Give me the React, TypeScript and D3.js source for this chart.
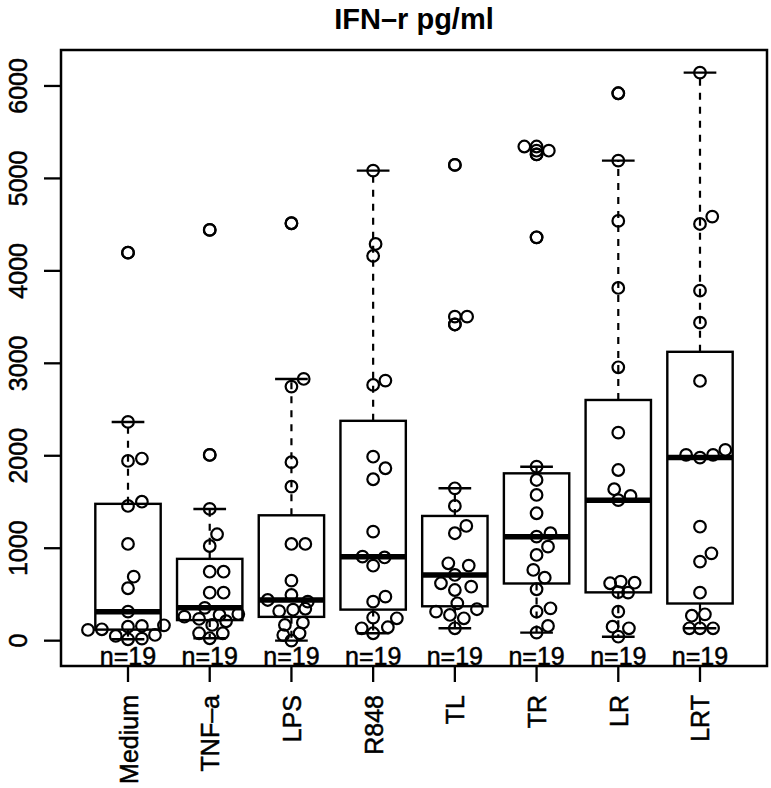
import { useEffect, useRef } from "react";
import * as d3 from "d3";

// group names as printed under the axis
const groups = ["Medium", "TNF–a", "LPS", "R848", "TL", "TR", "LR", "LRT"];

// IFN-r values (pg/ml) per group, n = 19 each
const medium = [15, 22, 51, 62, 116, 123, 151, 159, 166, 314, 567, 692, 1046, 1457, 1503, 1944, 1970, 2366, 4197];
const tnfa = [26, 80, 80, 170, 210, 235, 260, 278, 288, 355, 519, 519, 746, 746, 1024, 1151, 1425, 2009, 4443];
const lps = [0, 60, 80, 170, 195, 320, 335, 345, 422, 440, 494, 649, 1046, 1046, 1666, 1930, 2748, 2831, 4515];
const r848 = [80, 134, 145, 242, 250, 422, 476, 811, 900, 909, 1179, 1746, 1865, 1990, 2766, 2813, 4161, 4291, 5084];
const tl = [134, 242, 278, 314, 340, 404, 548, 584, 621, 711, 812, 837, 1162, 1241, 1457, 1648, 3420, 3505, 5146];
const tr = [87, 159, 314, 350, 556, 681, 765, 927, 1017, 1125, 1162, 1378, 1576, 1738, 1882, 4363, 5260, 5300, 5345];
const lr = [43, 134, 151, 314, 520, 525, 621, 627, 638, 1520, 1565, 1638, 1846, 2250, 2957, 3815, 4540, 5192, 5921];
const lrt = [134, 134, 134, 270, 285, 519, 855, 945, 1233, 1980, 2009, 2009, 2063, 2809, 3440, 3786, 4507, 4587, 6144];

// swarm offsets of the points (in group units)
const mediumDx = [0, 0.17, -0.15, 0.33, -0.49, -0.32, 0, 0.17, 0.44, 0, 0, 0.07, 0, 0, 0.17, 0, 0.17, 0, 0];
const tnfaDx = [0, -0.13, 0.16, 0.03, 0.2, -0.13, -0.31, 0.12, 0.35, -0.06, 0, 0.17, 0, 0.17, 0, 0.09, 0, 0, 0];
const lpsDx = [0, -0.1, 0.1, -0.08, 0.14, -0.15, 0.02, 0.17, 0.2, -0.29, 0, 0, 0, 0.17, 0, 0, 0, 0.15, 0];
const r848Dx = [0, -0.14, 0.18, 0.29, 0, 0, 0.15, 0, 0.14, -0.13, 0, 0, 0.15, 0, 0, 0.15, 0, 0.03, 0];
const tlDx = [0, 0.11, -0.06, -0.23, 0.27, 0.03, 0, 0.2, -0.17, 0, 0.17, -0.08, 0, 0.14, 0, 0, 0, 0.15, 0];
const trDx = [0, 0.14, 0, 0.17, 0, 0.1, -0.04, 0, 0.14, 0, 0.17, 0, 0, 0, 0, 0, 0, 0.15, -0.15];
const lrDx = [0, 0.13, -0.07, 0, 0.12, 0, -0.1, 0.2, 0.03, 0, 0.15, -0.05, 0, 0, 0, 0, 0, 0, 0];
const lrtDx = [-0.13, 0, 0.16, -0.1, 0.06, 0, 0, 0.14, 0, 0, -0.17, 0.16, 0.31, 0, 0, 0, 0, 0.15, 0];

const series = [medium, tnfa, lps, r848, tl, tr, lr, lrt];
const offsets = [mediumDx, tnfaDx, lpsDx, r848Dx, tlDx, trDx, lrDx, lrtDx];

const yTicks = [0, 1000, 2000, 3000, 4000, 5000, 6000];
const title = "IFN–r pg/ml";

const FONT = "'Liberation Sans', Arial, Helvetica, sans-serif";

// Tukey five-number summary, like R's fivenum
function fivenum(v: number[]) {
  const s = [...v].sort((a, b) => a - b);
  const n = s.length;
  const n4 = Math.floor((n + 3) / 2) / 2;
  const d = [1, n4, (n + 1) / 2, n + 1 - n4, n];
  return d.map(i => 0.5 * (s[Math.floor(i) - 1] + s[Math.ceil(i) - 1]));
}

function boxStats(v: number[]) {
  const [, q1, med, q3] = fivenum(v);
  const iqr = q3 - q1;
  const inside = v.filter(d => d >= q1 - 1.5 * iqr && d <= q3 + 1.5 * iqr);
  const out = v.filter(d => d < q1 - 1.5 * iqr || d > q3 + 1.5 * iqr);
  return { q1, med, q3, lo: d3.min(inside)!, hi: d3.max(inside)!, out };
}

export default function App() {
  const ref = useRef<SVGSVGElement>(null);

  useEffect(() => {
    const svg = d3.select(ref.current);
    svg.selectAll("*").remove();

    const left = 61, right = 767, top = 50, bottom = 666;

    const x = d3.scaleLinear().domain([0.18, 8.82]).range([left, right]);
    const y = d3.scaleLinear().domain([-274, 6389]).range([bottom, top]);

    const g = svg.append("g");

    // title
    g.append("text")
      .attr("x", (left + right) / 2)
      .attr("y", 29)
      .attr("text-anchor", "middle")
      .attr("font-family", FONT)
      .attr("font-weight", "bold")
      .attr("font-size", 29)
      .text(title);

    // boxes
    series.forEach((vals, i) => {
      const cx = x(i + 1);
      const st = boxStats(vals);
      const half = x(1.4) - x(1);
      const cap = x(1.2) - x(1);

      const bg = g.append("g");
      // whiskers
      [[st.q3, st.hi], [st.q1, st.lo]].forEach(([a, b]) => {
        bg.append("line")
          .attr("x1", cx).attr("x2", cx)
          .attr("y1", y(a)).attr("y2", y(b))
          .attr("stroke", "#000")
          .attr("stroke-width", 2.2)
          .attr("stroke-dasharray", "7,7");
        bg.append("line")
          .attr("x1", cx - cap).attr("x2", cx + cap)
          .attr("y1", y(b)).attr("y2", y(b))
          .attr("stroke", "#000")
          .attr("stroke-width", 2.4);
      });
      bg.append("rect")
        .attr("x", cx - half)
        .attr("y", y(st.q3))
        .attr("width", half * 2)
        .attr("height", y(st.q1) - y(st.q3))
        .attr("fill", "none")
        .attr("stroke", "#000")
        .attr("stroke-width", 2.4);
      bg.append("line")
        .attr("x1", cx - half).attr("x2", cx + half)
        .attr("y1", y(st.med)).attr("y2", y(st.med))
        .attr("stroke", "#000")
        .attr("stroke-width", 5.5);
      // outliers drawn by the boxplot itself, at the centre
      bg.selectAll(".out")
        .data(st.out)
        .enter()
        .append("circle")
        .attr("cx", cx)
        .attr("cy", d => y(d))
        .attr("r", 5.8)
        .attr("fill", "none")
        .attr("stroke", "#000")
        .attr("stroke-width", 2.2);

      // swarm points
      bg.selectAll(".pt")
        .data(vals.map((v, k) => ({ v, dx: offsets[i][k] })))
        .enter()
        .append("circle")
        .attr("cx", d => x(i + 1 + d.dx))
        .attr("cy", d => y(d.v))
        .attr("r", 5.8)
        .attr("fill", "none")
        .attr("stroke", "#000")
        .attr("stroke-width", 2.2);

      // n label
      bg.append("text")
        .attr("x", cx)
        .attr("y", bottom - 1)
        .attr("text-anchor", "middle")
        .attr("font-family", FONT)
        .attr("font-size", 25)
        .attr("stroke", "#000")
        .attr("stroke-width", 0.5)
        .text(`n=${vals.length}`);
    });

    // frame
    g.append("rect")
      .attr("x", left)
      .attr("y", top)
      .attr("width", right - left)
      .attr("height", bottom - top)
      .attr("fill", "none")
      .attr("stroke", "#000")
      .attr("stroke-width", 2.5);

    // y axis
    yTicks.forEach(t => {
      g.append("line")
        .attr("x1", left - 17).attr("x2", left)
        .attr("y1", y(t)).attr("y2", y(t))
        .attr("stroke", "#000")
        .attr("stroke-width", 2.3);
      g.append("text")
        .attr("transform", `translate(27, ${y(t)}) rotate(-90)`)
        .attr("text-anchor", "middle")
        .attr("font-family", FONT)
        .attr("font-size", 25)
        .attr("stroke", "#000")
        .attr("stroke-width", 0.5)
        .text(String(t));
    });

    // x axis
    groups.forEach((name, i) => {
      const cx = x(i + 1);
      g.append("line")
        .attr("x1", cx).attr("x2", cx)
        .attr("y1", bottom).attr("y2", bottom + 16)
        .attr("stroke", "#000")
        .attr("stroke-width", 2.3);
      g.append("text")
        .attr("transform", `translate(${cx + 9.5}, 695) rotate(-90)`)
        .attr("text-anchor", "end")
        .attr("font-family", FONT)
        .attr("font-size", 25)
        .attr("stroke", "#000")
        .attr("stroke-width", 0.5)
        .text(name);
    });
  }, []);

  return (
    <svg
      ref={ref}
      width={771}
      height={788}
      style={{ position: "absolute", left: 0, top: 0, background: "#fff" }}
    />
  );
}
